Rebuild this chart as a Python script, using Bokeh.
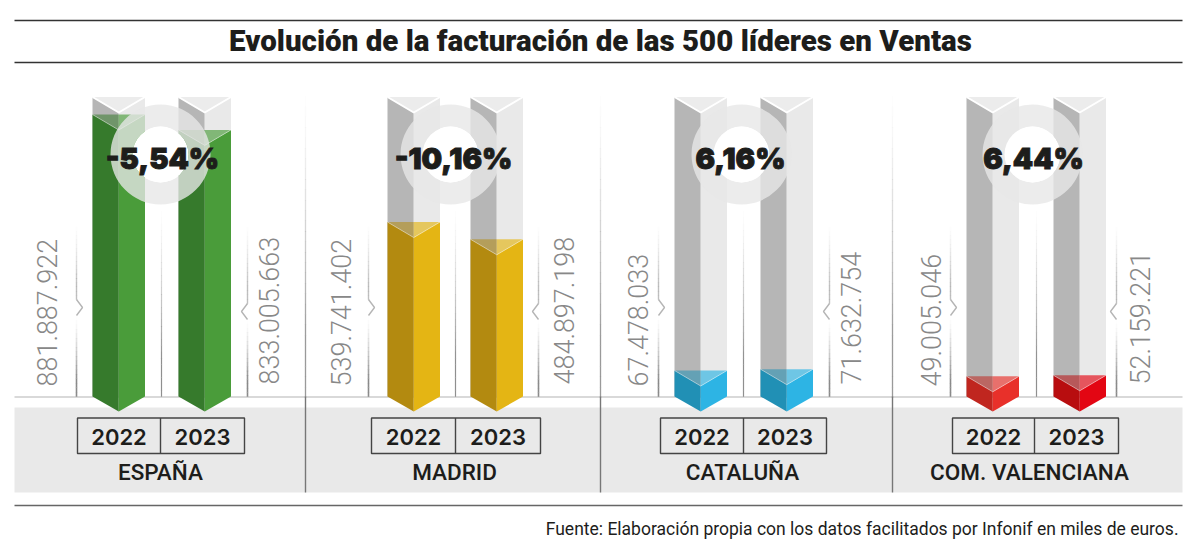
from bokeh.plotting import figure
from bokeh.models import Range1d
from bokeh.core.properties import value
from bokeh.embed import file_html
from bokeh.resources import INLINE
import math

title_text = "Evolución de la facturación de las 500 líderes en Ventas"
source_text = "Fuente: Elaboración propia con los datos facilitados por Infonif en miles de euros."
years = ["2022", "2023"]
regions = ["ESPAÑA", "MADRID", "CATALUÑA", "COM. VALENCIANA"]
values_2022 = [881887922, 539741402, 67478033, 49005046]
values_2023 = [833005663, 484897198, 71632754, 52159221]
changes = ["-5,54%", "-10,16%", "6,16%", "6,44%"]

left_faces = [("#367a2c", "#367a2c"), ("#b38a10", "#b38a10"), ("#2190b5", "#2190b5"), ("#c0261f", "#b80d0f")]
right_faces = [("#4a9c3a", "#4a9c3a"), ("#e4b514", "#e4b514"), ("#2db4e4", "#2db4e4"), ("#e8302a", "#e30613")]

# layout of each panel (page pixels)
bar_x0 = [(92, 178), (387, 470), (674, 760), (966, 1053)]
bracket_x = [(76, 247), (368, 538), (658, 829), (950, 1116)]
label_x = [(46, 268), (340, 563), (637, 850), (930, 1139)]
ring_x = [160, 450, 741, 1032]
pct_x = [162, 453, 740, 1033]
box_x = [(77, 160, 244), (371, 455, 540), (660, 743, 826), (952, 1034, 1118)]
name_x = [160, 454, 742, 1029]
mid_line_x = [161, 455, 743, 1036]
separators = [305, 600, 892]

BAR_W = 52.5
BASE_PX = 391.2
PX_PER_UNIT = 0.3143e-6
TOP_PX, BOT_PX = 0, 544


def px2val(py):
    return (BASE_PX - py) / PX_PER_UNIT


p = figure(width=1192, height=544, output_backend="svg", toolbar_location=None,
           x_range=Range1d(0, 1192), y_range=Range1d(BOT_PX, TOP_PX),
           x_axis_location=None, y_axis_location=None, min_border=0,
           outline_line_color=None, background_fill_color="white", border_fill_color="white")
p.grid.visible = False
p.extra_y_ranges = {"val": Range1d(px2val(BOT_PX), px2val(TOP_PX))}

TEXT = "#1d1d1b"


def fade_line(x, y_top, y_bottom, color="#8a8a8a", width=1.5, n=30, peak=1.0):
    step = (y_bottom - y_top) / n
    y0 = [y_top + i * step for i in range(n)]
    y1 = [y + step + 0.3 for y in y0]
    alphas = [peak * min(1.0, ((i + 0.5) / n) * 1.25) ** 1.5 for i in range(n)]
    p.segment(x0=[x] * n, x1=[x] * n, y0=y0, y1=y1, line_color=color, line_width=width,
              line_alpha=alphas, line_cap="butt")


# frame
p.quad(left=[14], right=[1182], top=[407], bottom=[492], fill_color="#e9e9e9", line_color=None)
p.segment(x0=[14], x1=[1182], y0=[396.5], y1=[396.5], line_color="#b4b4b4", line_width=1.2)
p.segment(x0=[14, 14], x1=[1182, 1182], y0=[20, 62], y1=[20, 62], line_color="#333333", line_width=1.4)
p.segment(x0=[14], x1=[1182], y0=[505], y1=[505], line_color="#666666", line_width=1.7)
for sx in separators:
    fade_line(sx, 85, 397, color="#8f8f8f", width=1.3, peak=0.9)
    p.segment(x0=[sx], x1=[sx], y0=[396], y1=[492], line_color="#777777", line_width=1.4)

# grey back bars, caps
FULL_TOP = 96.5
TIP = 411
CORNER = 396
V_DROP = 15.5
for i, pair in enumerate(bar_x0):
    for x0 in pair:
        xc, x1 = x0 + BAR_W / 2, x0 + BAR_W
        p.patch([x0, xc, xc, x0], [FULL_TOP, FULL_TOP + V_DROP, CORNER, CORNER], fill_color="#b6b6b6", line_color=None)
        p.patch([xc, x1, x1, xc], [FULL_TOP + V_DROP, FULL_TOP, CORNER, CORNER], fill_color="#e9e9e9", line_color=None)
        p.patch([x0, x1, xc], [FULL_TOP, FULL_TOP, FULL_TOP + V_DROP], fill_color="#ececec", line_color=None)
        p.line([x0, xc, x1], [FULL_TOP, FULL_TOP + V_DROP, FULL_TOP], line_color="white", line_width=2)

# value bars, from the data through the value scale
for i in range(4):
    for j, vals in enumerate((values_2022, values_2023)):
        v = vals[i]
        x0 = bar_x0[i][j]
        xc, x1 = x0 + BAR_W / 2, x0 + BAR_W
        lc, rc = left_faces[i][j], right_faces[i][j]
        drop = V_DROP / PX_PER_UNIT
        v_tip, v_corner = px2val(TIP), px2val(CORNER)
        p.patch([x0, xc, xc, x0], [v, v - drop, v_tip, v_corner], fill_color=lc, line_color=None, y_range_name="val")
        p.patch([xc, x1, x1, xc], [v - drop, v, v_corner, v_tip], fill_color=rc, line_color=None, y_range_name="val")
        p.patch([x0, xc, xc], [v, v, v - drop], fill_color=lc, fill_alpha=0.55, line_color=None, y_range_name="val")
        p.patch([xc, x1, xc], [v, v, v - drop], fill_color=rc, fill_alpha=0.65, line_color=None, y_range_name="val")
        p.line([x0, xc, x1], [v, v - drop, v], line_color="white", line_alpha=0.45, line_width=1, y_range_name="val")

# centre lines, rings
for i in range(4):
    fade_line(mid_line_x[i], 204, 396, color="#8f8f8f", width=1.2)
RING_Y = 154
p.annulus(x=ring_x, y=[RING_Y] * 4, inner_radius=28, outer_radius=50,
          fill_color="#e7e7e7", fill_alpha=0.79, line_color=None)
p.circle(x=ring_x, y=[RING_Y] * 4, radius=28, fill_color="white", line_color=None)

# brackets
for i in range(4):
    for side, bx in enumerate(bracket_x[i]):
        d = 6 if side == 0 else -6
        cy = 307 if side == 0 else 311
        fade_line(bx, 222, cy - 8, width=1.4, n=18, peak=0.55)
        fade_line(bx, cy + 8, 396, width=1.6, n=18)
        p.line([bx, bx + d, bx], [cy - 8, cy, cy + 8], line_color="#b5b5b5", line_width=1.4)

# texts
p.text(x=pct_x, y=[158] * 4, text=changes, text_font=value("Inter Black"), text_font_style="bold",
       text_font_size="29px", text_align="center", text_baseline="middle", text_color=TEXT,
       text_outline_color=TEXT)

lab_x, lab_y, lab_t = [], [], []
for i in range(4):
    for j, vals in enumerate((values_2022, values_2023)):
        lab_x.append(label_x[i][j])
        lab_y.append(386 if j == 0 else 384)
        lab_t.append(f"{vals[i]:,}".replace(",", "."))
p.text(x=lab_x, y=lab_y, text=lab_t, angle=math.pi / 2, text_font=value("Roboto Light"),
       text_font_size="27px", text_align="left", text_baseline="middle", text_color="#888888")

for i in range(4):
    a, m, b = box_x[i]
    p.quad(left=[a], right=[b], top=[417.5], bottom=[453], fill_color=None, line_color="#444444", line_width=1.4)
    p.segment(x0=[m], x1=[m], y0=[417.5], y1=[453], line_color="#444444", line_width=1.4)
    p.text(x=[(a + m) / 2, (m + b) / 2], y=[436, 436], text=years, text_font=value("Inter SemiBold"),
           text_font_size="22px", text_align="center", text_baseline="middle", text_color=TEXT)
p.text(x=name_x, y=[471] * 4, text=regions, text_font=value("Roboto Medium"),
       text_font_size="22.5px", text_align="center", text_baseline="middle", text_color=TEXT)
p.text(x=[600], y=[40], text=[title_text], text_font=value("Roboto Black"),
       text_font_size="29.5px", text_align="center", text_baseline="middle", text_color=TEXT)
p.text(x=[1178], y=[528], text=[source_text], text_font=value("Roboto"),
       text_font_size="17.5px", text_align="right", text_baseline="middle", text_color=TEXT)

open("out.html", "w").write(file_html(p, INLINE))
